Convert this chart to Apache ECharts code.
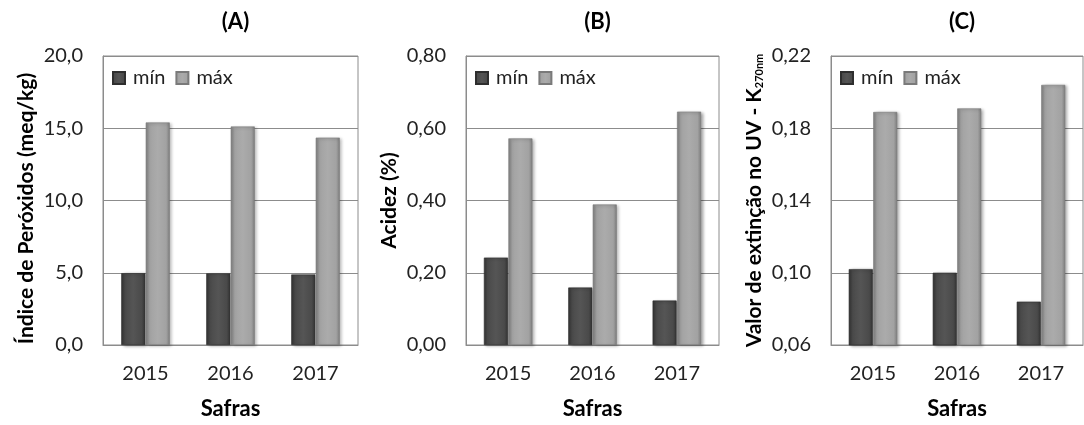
<!DOCTYPE html>
<html>
<head>
<meta charset="utf-8">
<script src="https://cdn.jsdelivr.net/npm/echarts@6/dist/echarts.min.js"></script>
<style>
  html, body { margin: 0; padding: 0; background: #fff; }
  #chart { width: 1084px; height: 425px; }
</style>
</head>
<body>
<div id="chart"></div>
<script>
// ---- Data ----
const categories = ['2015', '2016', '2017'];
const seriesNames = ['mín', 'máx'];
const panelTitles = ['(A)', '(B)', '(C)'];
const xAxisTitle = 'Safras';

// (A) Índice de Peróxidos (meq/kg)
const peroxMin = [4.97, 4.96, 4.88];
const peroxMax = [15.4, 15.12, 14.35];
// (B) Acidez (%)
const acidMin = [0.242, 0.159, 0.123];
const acidMax = [0.572, 0.389, 0.646];
// (C) Valor de extinção no UV - K270nm
const k270Min = [0.102, 0.100, 0.084];
const k270Max = [0.189, 0.191, 0.204];

const yTitles = ['Índice de Peróxidos (meq/kg)', 'Acidez (%)', 'Valor de extinção no UV - K{sub|270nm}'];
const yMins = [0, 0, 0.06];
const yMaxs = [20, 0.8, 0.22];
const yIntervals = [5, 0.2, 0.04];
const yDecimals = [1, 2, 2];

// ---- Layout ----
const FONT = 'Lato, "Noto Sans", sans-serif';
const grids = [
  { left: 103, width: 255 },
  { left: 466, width: 253 },
  { left: 831, width: 252 }
];
const gridTop = 56, gridBottom = 78;
const yNamePadding = [[0, 16, 0, 0], [0, 0, 0, 0], [0, 0, 0, 0]];

const darkColor = {
  type: 'linear', x: 0, y: 0, x2: 1, y2: 0,
  colorStops: [
    { offset: 0, color: '#333333' },
    { offset: 0.15, color: '#4a4a4a' },
    { offset: 0.5, color: '#555555' },
    { offset: 0.85, color: '#4a4a4a' },
    { offset: 1, color: '#333333' }
  ]
};
const lightColor = {
  type: 'linear', x: 0, y: 0, x2: 1, y2: 0,
  colorStops: [
    { offset: 0, color: '#7e7e7e' },
    { offset: 0.15, color: '#a2a2a2' },
    { offset: 0.5, color: '#ababab' },
    { offset: 0.85, color: '#a2a2a2' },
    { offset: 1, color: '#7e7e7e' }
  ]
};

const dataSets = [[peroxMin, peroxMax], [acidMin, acidMax], [k270Min, k270Max]];

const option = {
  backgroundColor: '#ffffff',
  animation: false,
  textStyle: { fontFamily: FONT },
  title: grids.map((g, i) => ({
    text: panelTitles[i],
    left: g.left + g.width / 2,
    top: 6,
    textAlign: 'center',
    textStyle: { fontFamily: FONT, fontWeight: 'bold', fontSize: 22, color: '#000' }
  })),
  legend: grids.map(g => ({
    left: g.left + 4,
    top: 63,
    itemWidth: 12,
    itemHeight: 12,
    itemGap: 10,
    icon: 'rect',
    data: seriesNames,
    textStyle: { fontFamily: FONT, fontSize: 20, color: '#222', padding: [0, 0, 0, 3] }
  })),
  grid: grids.map(g => ({
    left: g.left, width: g.width, top: gridTop, bottom: gridBottom,
    show: true, borderColor: '#8c8c8c', borderWidth: 1, backgroundColor: 'transparent'
  })),
  xAxis: grids.map((g, i) => ({
    type: 'category',
    gridIndex: i,
    data: categories,
    name: xAxisTitle,
    nameLocation: 'middle',
    nameGap: 53,
    nameTextStyle: { fontFamily: FONT, fontWeight: 'bold', fontSize: 22, color: '#000' },
    axisLine: { lineStyle: { color: '#8c8c8c' } },
    axisTick: { inside: true, length: 5, lineStyle: { color: '#8c8c8c' } },
    axisLabel: { fontFamily: FONT, fontSize: 20, color: '#222', margin: 19 }
  })),
  yAxis: grids.map((g, i) => ({
    type: 'value',
    gridIndex: i,
    min: yMins[i],
    max: yMaxs[i],
    interval: yIntervals[i],
    name: yTitles[i],
    nameLocation: 'middle',
    nameGap: 66,
    nameTextStyle: {
      fontFamily: FONT, fontWeight: 'bold', fontSize: 21, color: '#000',
      padding: yNamePadding[i],
      rich: {
        sub: { fontFamily: FONT, fontWeight: 'bold', fontSize: 11, color: '#000', verticalAlign: 'bottom', padding: [10, 0, 0, 0] }
      }
    },
    axisLine: { show: true, lineStyle: { color: '#8c8c8c' } },
    axisTick: { show: false },
    splitLine: { lineStyle: { color: '#8c8c8c', width: 1 } },
    axisLabel: {
      fontFamily: FONT, fontSize: 20, color: '#222', margin: 20,
      formatter: v => v.toFixed(yDecimals[i]).replace('.', ',')
    }
  })),
  series: []
};

dataSets.forEach((pair, i) => {
  pair.forEach((vals, j) => {
    option.series.push({
      type: 'bar',
      name: seriesNames[j],
      xAxisIndex: i,
      yAxisIndex: i,
      data: vals,
      barWidth: 24,
      barGap: '2%',
      itemStyle: {
        color: j === 0 ? darkColor : lightColor,
        borderColor: j === 0 ? '#2e2e2e' : '#7a7a7a',
        borderWidth: 0.6,
        shadowColor: 'rgba(0,0,0,0.35)',
        shadowBlur: 3,
        shadowOffsetX: 2,
        shadowOffsetY: 1
      }
    });
  });
});

const chart = echarts.init(document.getElementById('chart'), null, { renderer: 'canvas' });
chart.setOption(option);
</script>
</body>
</html>
